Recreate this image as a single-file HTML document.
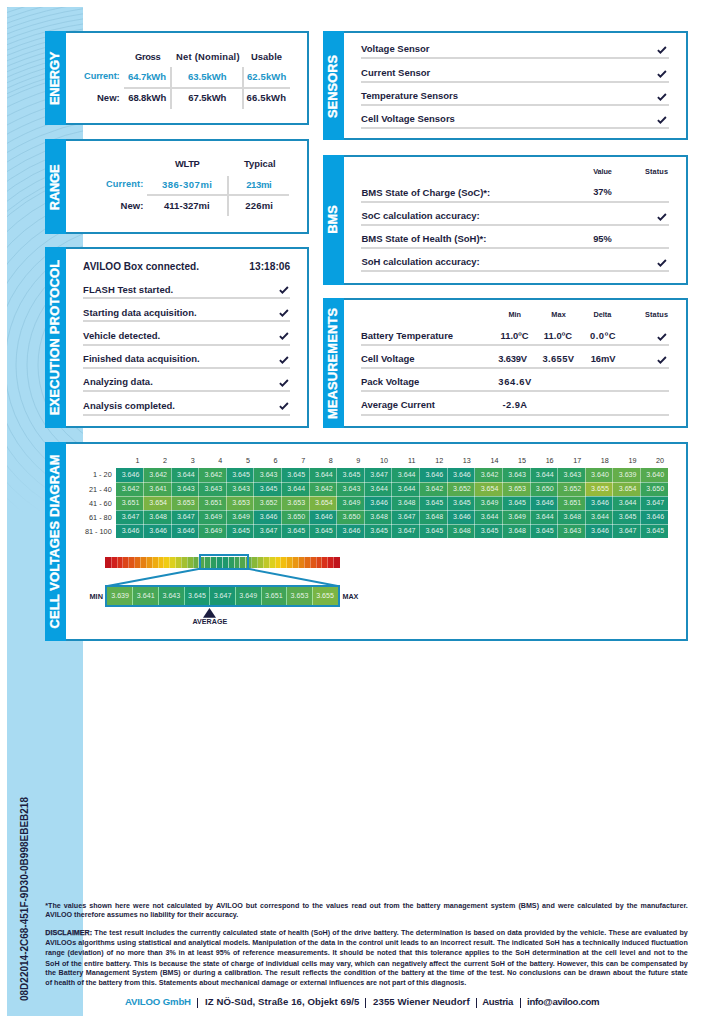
<!DOCTYPE html>
<html><head><meta charset="utf-8"><style>
html,body{margin:0;padding:0;background:#fff;}
body{width:725px;height:1024px;position:relative;overflow:hidden;font-family:"Liberation Sans",sans-serif;}
.t{position:absolute;line-height:1;white-space:nowrap;}
.l,.c{position:absolute;}
.ck{position:absolute;overflow:visible;}
.box{position:absolute;box-sizing:border-box;border:2px solid #1b8bbd;background:#fff;}
.band{position:absolute;background:#079fe0;}
.lab{position:absolute;text-align:center;color:#fff;font-weight:bold;white-space:nowrap;transform:rotate(-90deg);}
</style></head><body>
<div style="position:absolute;left:7px;top:7px;width:76px;height:1009px;background:#a9dbf2"></div>
<svg class="ck" style="left:0;top:0" width="90" height="520"><defs><clipPath id="sc"><rect x="7" y="7" width="76" height="505"/></clipPath><linearGradient id="fd" x1="0" y1="0" x2="0" y2="1"><stop offset="0.85" stop-color="#fff"/><stop offset="1" stop-color="#000"/></linearGradient><mask id="mk"><rect x="0" y="0" width="90" height="512" fill="url(#fd)"/></mask></defs><g clip-path="url(#sc)" mask="url(#mk)" fill="none" stroke="#7fb6d2" stroke-opacity="0.45" stroke-width="0.9"><circle cx="135" cy="365" r="75"/><circle cx="135" cy="365" r="86"/><circle cx="135" cy="365" r="97"/><circle cx="135" cy="365" r="108"/><circle cx="135" cy="365" r="119"/><circle cx="135" cy="365" r="130"/><circle cx="135" cy="365" r="141"/><circle cx="135" cy="365" r="152"/><circle cx="135" cy="365" r="163"/><circle cx="135" cy="365" r="174"/><circle cx="135" cy="365" r="185"/><circle cx="135" cy="365" r="196"/><circle cx="135" cy="365" r="200"/><circle cx="135" cy="365" r="208"/><circle cx="135" cy="365" r="216"/><circle cx="135" cy="365" r="224"/><circle cx="135" cy="365" r="232"/><circle cx="135" cy="365" r="240"/><circle cx="135" cy="365" r="248"/><circle cx="135" cy="365" r="256"/><circle cx="135" cy="365" r="264"/><circle cx="135" cy="365" r="272"/><circle cx="135" cy="365" r="280"/><circle cx="135" cy="365" r="288"/><circle cx="135" cy="365" r="296"/><circle cx="135" cy="365" r="300"/><circle cx="135" cy="365" r="305"/><circle cx="135" cy="365" r="310"/><circle cx="135" cy="365" r="315"/><circle cx="135" cy="365" r="320"/><circle cx="135" cy="365" r="325"/><circle cx="135" cy="365" r="330"/><circle cx="135" cy="365" r="335"/><circle cx="135" cy="365" r="340"/><circle cx="135" cy="365" r="345"/><circle cx="135" cy="365" r="350"/><circle cx="135" cy="365" r="355"/><circle cx="135" cy="365" r="360"/><circle cx="135" cy="365" r="365"/><circle cx="135" cy="365" r="370"/><circle cx="135" cy="365" r="375"/><circle cx="135" cy="365" r="380"/><circle cx="135" cy="365" r="385"/><circle cx="135" cy="365" r="390"/><circle cx="135" cy="365" r="395"/><circle cx="135" cy="365" r="400"/><circle cx="135" cy="365" r="405"/><circle cx="135" cy="365" r="410"/><circle cx="135" cy="365" r="415"/><circle cx="135" cy="365" r="420"/><circle cx="135" cy="365" r="425"/><circle cx="135" cy="365" r="430"/><circle cx="135" cy="365" r="435"/></g></svg>
<div class="box" style="left:45px;top:30.5px;width:264px;height:94.0px"></div>
<div class="band" style="left:45px;top:30.5px;width:21px;height:94.0px"></div>
<div class="lab" style="left:-95.50px;top:71.94px;width:300px;height:12.9px;line-height:12.9px;font-size:12.9px;letter-spacing:-0.215px;-webkit-text-stroke:0.35px #fff">ENERGY</div>
<div class="t" style="left:135.10px;top:51.54px;font-size:9.4px;font-weight:bold;color:#1c1d40;letter-spacing:-0.392px;">Gross</div>
<div class="t" style="left:176.10px;top:51.54px;font-size:9.4px;font-weight:bold;color:#1c1d40;letter-spacing:0.208px;">Net (Nominal)</div>
<div class="t" style="left:251.00px;top:51.54px;font-size:9.4px;font-weight:bold;color:#1c1d40;letter-spacing:0.055px;">Usable</div>
<div class="t" style="left:84.10px;top:71.91px;font-size:9.2px;font-weight:bold;color:#2196c8;letter-spacing:-0.098px;">Current:</div>
<div class="t" style="left:128.00px;top:71.66px;font-size:9.5px;font-weight:bold;color:#2196c8;letter-spacing:-0.090px;">64.7kWh</div>
<div class="t" style="left:187.90px;top:71.66px;font-size:9.5px;font-weight:bold;color:#2196c8;letter-spacing:0.026px;">63.5kWh</div>
<div class="t" style="left:246.90px;top:71.66px;font-size:9.5px;font-weight:bold;color:#2196c8;letter-spacing:0.126px;">62.5kWh</div>
<div class="t" style="left:-280.30px;width:400px;text-align:right;top:93.26px;font-size:9.5px;font-weight:bold;color:#1c1d40;">New:</div>
<div class="t" style="left:128.20px;top:93.26px;font-size:9.5px;font-weight:bold;color:#1c1d40;letter-spacing:-0.090px;">68.8kWh</div>
<div class="t" style="left:188.30px;top:93.26px;font-size:9.5px;font-weight:bold;color:#1c1d40;letter-spacing:-0.074px;">67.5kWh</div>
<div class="t" style="left:246.50px;top:93.26px;font-size:9.5px;font-weight:bold;color:#1c1d40;letter-spacing:0.160px;">66.5kWh</div>
<div class="l" style="left:123.80px;top:87px;width:166.60px;height:2px;background:#d7d7d7"></div>
<div class="l" style="left:170px;top:67.30px;width:2px;height:41.40px;background:#d6d6d6"></div>
<div class="l" style="left:242px;top:67.30px;width:2px;height:41.40px;background:#d6d6d6"></div>
<div class="box" style="left:45px;top:139px;width:264px;height:94.5px"></div>
<div class="band" style="left:45px;top:139px;width:21px;height:94.5px"></div>
<div class="lab" style="left:-95.50px;top:180.59px;width:300px;height:12.9px;line-height:12.9px;font-size:12.9px;letter-spacing:-0.220px;-webkit-text-stroke:0.35px #fff">RANGE</div>
<div class="t" style="left:175.00px;top:159.14px;font-size:9.4px;font-weight:bold;color:#1c1d40;letter-spacing:-0.375px;">WLTP</div>
<div class="t" style="left:244.00px;top:159.14px;font-size:9.4px;font-weight:bold;color:#1c1d40;letter-spacing:0.001px;">Typical</div>
<div class="t" style="left:106.00px;top:180.01px;font-size:9.2px;font-weight:bold;color:#2196c8;letter-spacing:0.145px;">Current:</div>
<div class="t" style="left:162.00px;top:179.76px;font-size:9.5px;font-weight:bold;color:#2196c8;letter-spacing:0.506px;">386-307mi</div>
<div class="t" style="left:246.20px;top:179.76px;font-size:9.5px;font-weight:bold;color:#2196c8;letter-spacing:-0.383px;">213mi</div>
<div class="t" style="left:-256.70px;width:400px;text-align:right;top:201.26px;font-size:9.5px;font-weight:bold;color:#1c1d40;">New:</div>
<div class="t" style="left:164.00px;top:201.26px;font-size:9.5px;font-weight:bold;color:#1c1d40;letter-spacing:0.034px;">411-327mi</div>
<div class="t" style="left:245.30px;top:201.26px;font-size:9.5px;font-weight:bold;color:#1c1d40;letter-spacing:0.167px;">226mi</div>
<div class="l" style="left:147.40px;top:194px;width:142.10px;height:2px;background:#d7d7d7"></div>
<div class="l" style="left:227px;top:176.20px;width:2px;height:40.00px;background:#d6d6d6"></div>
<div class="box" style="left:45px;top:247px;width:264px;height:180.5px"></div>
<div class="band" style="left:45px;top:247px;width:21px;height:180.5px"></div>
<div class="lab" style="left:-95.50px;top:330.86px;width:300px;height:12.9px;line-height:12.9px;font-size:12.9px;letter-spacing:0.229px;-webkit-text-stroke:0.35px #fff">EXECUTION PROTOCOL</div>
<div class="t" style="left:83.10px;top:261.79px;font-size:10.05px;font-weight:bold;color:#1c1d40;letter-spacing:0.025px;">AVILOO Box connected.</div>
<div class="t" style="left:249.30px;top:261.67px;font-size:10.2px;font-weight:bold;color:#1c1d40;letter-spacing:0.010px;">13:18:06</div>
<div class="t" style="left:83.10px;top:284.86px;font-size:9.5px;font-weight:bold;color:#1c1d40;">FLASH Test started.</div>
<div class="l" style="left:82.60px;top:297px;width:207.60px;height:2px;background:#d7d7d7"></div>
<svg class="ck" style="left:278.60px;top:286.30px" width="10" height="8" viewBox="0 0 10 8"><path d="M0.9 4.1 L3.4 6.6 L8.9 1.0" fill="none" stroke="#1c1d40" stroke-width="1.9"/></svg>
<div class="t" style="left:83.10px;top:307.56px;font-size:9.5px;font-weight:bold;color:#1c1d40;">Starting data acquisition.</div>
<div class="l" style="left:82.60px;top:320px;width:207.60px;height:2px;background:#d7d7d7"></div>
<svg class="ck" style="left:278.60px;top:309.00px" width="10" height="8" viewBox="0 0 10 8"><path d="M0.9 4.1 L3.4 6.6 L8.9 1.0" fill="none" stroke="#1c1d40" stroke-width="1.9"/></svg>
<div class="t" style="left:83.10px;top:330.56px;font-size:9.5px;font-weight:bold;color:#1c1d40;">Vehicle detected.</div>
<div class="l" style="left:82.60px;top:344px;width:207.60px;height:2px;background:#d7d7d7"></div>
<svg class="ck" style="left:278.60px;top:332.00px" width="10" height="8" viewBox="0 0 10 8"><path d="M0.9 4.1 L3.4 6.6 L8.9 1.0" fill="none" stroke="#1c1d40" stroke-width="1.9"/></svg>
<div class="t" style="left:83.10px;top:354.06px;font-size:9.5px;font-weight:bold;color:#1c1d40;">Finished data acquisition.</div>
<div class="l" style="left:82.60px;top:367px;width:207.60px;height:2px;background:#d7d7d7"></div>
<svg class="ck" style="left:278.60px;top:355.50px" width="10" height="8" viewBox="0 0 10 8"><path d="M0.9 4.1 L3.4 6.6 L8.9 1.0" fill="none" stroke="#1c1d40" stroke-width="1.9"/></svg>
<div class="t" style="left:83.10px;top:377.36px;font-size:9.5px;font-weight:bold;color:#1c1d40;">Analyzing data.</div>
<div class="l" style="left:82.60px;top:390px;width:207.60px;height:2px;background:#d7d7d7"></div>
<svg class="ck" style="left:278.60px;top:378.80px" width="10" height="8" viewBox="0 0 10 8"><path d="M0.9 4.1 L3.4 6.6 L8.9 1.0" fill="none" stroke="#1c1d40" stroke-width="1.9"/></svg>
<div class="t" style="left:83.10px;top:400.66px;font-size:9.5px;font-weight:bold;color:#1c1d40;">Analysis completed.</div>
<div class="l" style="left:82.60px;top:414px;width:207.60px;height:2px;background:#d7d7d7"></div>
<svg class="ck" style="left:278.60px;top:402.10px" width="10" height="8" viewBox="0 0 10 8"><path d="M0.9 4.1 L3.4 6.6 L8.9 1.0" fill="none" stroke="#1c1d40" stroke-width="1.9"/></svg>
<div class="box" style="left:322.5px;top:30.5px;width:365.0px;height:109.80000000000001px"></div>
<div class="band" style="left:322.5px;top:30.5px;width:21px;height:109.80000000000001px"></div>
<div class="lab" style="left:183.00px;top:79.52px;width:300px;height:12.9px;line-height:12.9px;font-size:12.9px;letter-spacing:0.037px;-webkit-text-stroke:0.35px #fff">SENSORS</div>
<div class="t" style="left:361.10px;top:44.36px;font-size:9.5px;font-weight:bold;color:#1c1d40;">Voltage Sensor</div>
<div class="l" style="left:360.80px;top:57px;width:307.80px;height:2px;background:#d7d7d7"></div>
<svg class="ck" style="left:657.40px;top:46.20px" width="10" height="8" viewBox="0 0 10 8"><path d="M0.9 4.1 L3.4 6.6 L8.9 1.0" fill="none" stroke="#1c1d40" stroke-width="1.9"/></svg>
<div class="t" style="left:361.10px;top:67.86px;font-size:9.5px;font-weight:bold;color:#1c1d40;">Current Sensor</div>
<div class="l" style="left:360.80px;top:81px;width:307.80px;height:2px;background:#d7d7d7"></div>
<svg class="ck" style="left:657.40px;top:69.70px" width="10" height="8" viewBox="0 0 10 8"><path d="M0.9 4.1 L3.4 6.6 L8.9 1.0" fill="none" stroke="#1c1d40" stroke-width="1.9"/></svg>
<div class="t" style="left:361.10px;top:91.16px;font-size:9.5px;font-weight:bold;color:#1c1d40;">Temperature Sensors</div>
<div class="l" style="left:360.80px;top:104px;width:307.80px;height:2px;background:#d7d7d7"></div>
<svg class="ck" style="left:657.40px;top:93.00px" width="10" height="8" viewBox="0 0 10 8"><path d="M0.9 4.1 L3.4 6.6 L8.9 1.0" fill="none" stroke="#1c1d40" stroke-width="1.9"/></svg>
<div class="t" style="left:361.10px;top:114.16px;font-size:9.5px;font-weight:bold;color:#1c1d40;">Cell Voltage Sensors</div>
<div class="l" style="left:360.80px;top:127px;width:307.80px;height:2px;background:#d7d7d7"></div>
<svg class="ck" style="left:657.40px;top:116.00px" width="10" height="8" viewBox="0 0 10 8"><path d="M0.9 4.1 L3.4 6.6 L8.9 1.0" fill="none" stroke="#1c1d40" stroke-width="1.9"/></svg>
<div class="box" style="left:322.5px;top:155px;width:365.0px;height:129.60000000000002px"></div>
<div class="band" style="left:322.5px;top:155px;width:21px;height:129.60000000000002px"></div>
<div class="lab" style="left:183.00px;top:213.31px;width:300px;height:12.9px;line-height:12.9px;font-size:12.9px;letter-spacing:0.018px;-webkit-text-stroke:0.35px #fff">BMS</div>
<div class="t" style="left:593.20px;top:167.92px;font-size:7.3px;font-weight:bold;color:#1c1d40;letter-spacing:-0.094px;">Value</div>
<div class="t" style="left:645.00px;top:167.92px;font-size:7.3px;font-weight:bold;color:#1c1d40;letter-spacing:0.138px;">Status</div>
<div class="t" style="left:361.40px;top:188.16px;font-size:9.5px;font-weight:bold;color:#1c1d40;">BMS State of Charge (SoC)*:</div>
<div class="l" style="left:360.80px;top:201px;width:308.00px;height:2px;background:#d7d7d7"></div>
<div class="t" style="left:593.20px;top:188.33px;font-size:9.3px;font-weight:bold;color:#1c1d40;letter-spacing:-0.055px;">37%</div>
<div class="t" style="left:361.40px;top:211.06px;font-size:9.5px;font-weight:bold;color:#1c1d40;">SoC calculation accuracy:</div>
<div class="l" style="left:360.80px;top:224px;width:308.00px;height:2px;background:#d7d7d7"></div>
<svg class="ck" style="left:657.40px;top:212.80px" width="10" height="8" viewBox="0 0 10 8"><path d="M0.9 4.1 L3.4 6.6 L8.9 1.0" fill="none" stroke="#1c1d40" stroke-width="1.9"/></svg>
<div class="t" style="left:361.40px;top:234.36px;font-size:9.5px;font-weight:bold;color:#1c1d40;">BMS State of Health (SoH)*:</div>
<div class="l" style="left:360.80px;top:247px;width:308.00px;height:2px;background:#d7d7d7"></div>
<div class="t" style="left:593.20px;top:234.53px;font-size:9.3px;font-weight:bold;color:#1c1d40;letter-spacing:-0.055px;">95%</div>
<div class="t" style="left:361.40px;top:257.46px;font-size:9.5px;font-weight:bold;color:#1c1d40;">SoH calculation accuracy:</div>
<div class="l" style="left:360.80px;top:270px;width:308.00px;height:2px;background:#d7d7d7"></div>
<svg class="ck" style="left:657.40px;top:259.20px" width="10" height="8" viewBox="0 0 10 8"><path d="M0.9 4.1 L3.4 6.6 L8.9 1.0" fill="none" stroke="#1c1d40" stroke-width="1.9"/></svg>
<div class="box" style="left:322.5px;top:298px;width:365.0px;height:129.5px"></div>
<div class="band" style="left:322.5px;top:298px;width:21px;height:129.5px"></div>
<div class="lab" style="left:183.00px;top:357.07px;width:300px;height:12.9px;line-height:12.9px;font-size:12.9px;letter-spacing:0.131px;-webkit-text-stroke:0.35px #fff">MEASUREMENTS</div>
<div class="t" style="left:508.50px;top:310.92px;font-size:7.3px;font-weight:bold;color:#1c1d40;letter-spacing:-0.085px;">Min</div>
<div class="t" style="left:551.20px;top:310.92px;font-size:7.3px;font-weight:bold;color:#1c1d40;letter-spacing:0.251px;">Max</div>
<div class="t" style="left:593.40px;top:310.92px;font-size:7.3px;font-weight:bold;color:#1c1d40;letter-spacing:0.025px;">Delta</div>
<div class="t" style="left:645.00px;top:310.92px;font-size:7.3px;font-weight:bold;color:#1c1d40;letter-spacing:0.138px;">Status</div>
<div class="t" style="left:360.90px;top:330.96px;font-size:9.5px;font-weight:bold;color:#1c1d40;">Battery Temperature</div>
<div class="l" style="left:360.80px;top:344px;width:308.00px;height:2px;background:#d7d7d7"></div>
<div class="t" style="left:500.50px;top:331.04px;font-size:9.4px;font-weight:bold;color:#1c1d40;letter-spacing:0.019px;">11.0ºC</div>
<div class="t" style="left:543.80px;top:331.04px;font-size:9.4px;font-weight:bold;color:#1c1d40;letter-spacing:0.079px;">11.0ºC</div>
<div class="t" style="left:589.90px;top:331.04px;font-size:9.4px;font-weight:bold;color:#1c1d40;letter-spacing:0.577px;">0.0ºC</div>
<svg class="ck" style="left:657.40px;top:332.50px" width="10" height="8" viewBox="0 0 10 8"><path d="M0.9 4.1 L3.4 6.6 L8.9 1.0" fill="none" stroke="#1c1d40" stroke-width="1.9"/></svg>
<div class="t" style="left:360.90px;top:353.96px;font-size:9.5px;font-weight:bold;color:#1c1d40;">Cell Voltage</div>
<div class="l" style="left:360.80px;top:367px;width:308.00px;height:2px;background:#d7d7d7"></div>
<div class="t" style="left:498.30px;top:354.04px;font-size:9.4px;font-weight:bold;color:#1c1d40;letter-spacing:-0.178px;">3.639V</div>
<div class="t" style="left:542.40px;top:354.04px;font-size:9.4px;font-weight:bold;color:#1c1d40;letter-spacing:0.382px;">3.655V</div>
<div class="t" style="left:590.70px;top:354.04px;font-size:9.4px;font-weight:bold;color:#1c1d40;letter-spacing:-0.093px;">16mV</div>
<svg class="ck" style="left:657.40px;top:355.50px" width="10" height="8" viewBox="0 0 10 8"><path d="M0.9 4.1 L3.4 6.6 L8.9 1.0" fill="none" stroke="#1c1d40" stroke-width="1.9"/></svg>
<div class="t" style="left:360.90px;top:377.16px;font-size:9.5px;font-weight:bold;color:#1c1d40;">Pack Voltage</div>
<div class="l" style="left:360.80px;top:390px;width:308.00px;height:2px;background:#d7d7d7"></div>
<div class="t" style="left:498.30px;top:377.24px;font-size:9.4px;font-weight:bold;color:#1c1d40;letter-spacing:0.662px;">364.6V</div>
<div class="t" style="left:360.90px;top:400.16px;font-size:9.5px;font-weight:bold;color:#1c1d40;">Average Current</div>
<div class="l" style="left:360.80px;top:414px;width:308.00px;height:2px;background:#d7d7d7"></div>
<div class="t" style="left:502.40px;top:400.24px;font-size:9.4px;font-weight:bold;color:#1c1d40;letter-spacing:0.454px;">-2.9A</div>
<div class="box" style="left:45px;top:441.5px;width:642.5px;height:199.20000000000005px"></div>
<div class="band" style="left:45px;top:441.5px;width:21px;height:199.20000000000005px"></div>
<div class="lab" style="left:-95.50px;top:535.17px;width:300px;height:12.9px;line-height:12.9px;font-size:12.9px;letter-spacing:0.131px;-webkit-text-stroke:0.35px #fff">CELL VOLTAGES DIAGRAM</div>
<div class="t" style="left:-260.59px;width:400px;text-align:right;top:457.21px;font-size:7.2px;font-weight:normal;color:#333;">1</div>
<div class="t" style="left:-232.97px;width:400px;text-align:right;top:457.21px;font-size:7.2px;font-weight:normal;color:#333;">2</div>
<div class="t" style="left:-205.36px;width:400px;text-align:right;top:457.21px;font-size:7.2px;font-weight:normal;color:#333;">3</div>
<div class="t" style="left:-177.74px;width:400px;text-align:right;top:457.21px;font-size:7.2px;font-weight:normal;color:#333;">4</div>
<div class="t" style="left:-150.12px;width:400px;text-align:right;top:457.21px;font-size:7.2px;font-weight:normal;color:#333;">5</div>
<div class="t" style="left:-122.51px;width:400px;text-align:right;top:457.21px;font-size:7.2px;font-weight:normal;color:#333;">6</div>
<div class="t" style="left:-94.89px;width:400px;text-align:right;top:457.21px;font-size:7.2px;font-weight:normal;color:#333;">7</div>
<div class="t" style="left:-67.28px;width:400px;text-align:right;top:457.21px;font-size:7.2px;font-weight:normal;color:#333;">8</div>
<div class="t" style="left:-39.66px;width:400px;text-align:right;top:457.21px;font-size:7.2px;font-weight:normal;color:#333;">9</div>
<div class="t" style="left:-12.05px;width:400px;text-align:right;top:457.21px;font-size:7.2px;font-weight:normal;color:#333;">10</div>
<div class="t" style="left:15.57px;width:400px;text-align:right;top:457.21px;font-size:7.2px;font-weight:normal;color:#333;">11</div>
<div class="t" style="left:43.18px;width:400px;text-align:right;top:457.21px;font-size:7.2px;font-weight:normal;color:#333;">12</div>
<div class="t" style="left:70.80px;width:400px;text-align:right;top:457.21px;font-size:7.2px;font-weight:normal;color:#333;">13</div>
<div class="t" style="left:98.41px;width:400px;text-align:right;top:457.21px;font-size:7.2px;font-weight:normal;color:#333;">14</div>
<div class="t" style="left:126.02px;width:400px;text-align:right;top:457.21px;font-size:7.2px;font-weight:normal;color:#333;">15</div>
<div class="t" style="left:153.64px;width:400px;text-align:right;top:457.21px;font-size:7.2px;font-weight:normal;color:#333;">16</div>
<div class="t" style="left:181.25px;width:400px;text-align:right;top:457.21px;font-size:7.2px;font-weight:normal;color:#333;">17</div>
<div class="t" style="left:208.87px;width:400px;text-align:right;top:457.21px;font-size:7.2px;font-weight:normal;color:#333;">18</div>
<div class="t" style="left:236.49px;width:400px;text-align:right;top:457.21px;font-size:7.2px;font-weight:normal;color:#333;">19</div>
<div class="t" style="left:264.10px;width:400px;text-align:right;top:457.21px;font-size:7.2px;font-weight:normal;color:#333;">20</div>
<div class="t" style="left:-288.30px;width:400px;text-align:right;top:471.47px;font-size:7.3px;font-weight:normal;color:#333;">1 - 20</div>
<div class="c" style="left:115.80px;top:468.00px;width:27.62px;height:14.10px;background:#17957a"></div>
<div class="c" style="left:143.41px;top:468.00px;width:27.62px;height:14.10px;background:#39a35b"></div>
<div class="c" style="left:171.03px;top:468.00px;width:27.62px;height:14.10px;background:#229b6a"></div>
<div class="c" style="left:198.64px;top:468.00px;width:27.62px;height:14.10px;background:#39a35b"></div>
<div class="c" style="left:226.26px;top:468.00px;width:27.62px;height:14.10px;background:#1b9873"></div>
<div class="c" style="left:253.88px;top:468.00px;width:27.62px;height:14.10px;background:#2d9f62"></div>
<div class="c" style="left:281.49px;top:468.00px;width:27.62px;height:14.10px;background:#1b9873"></div>
<div class="c" style="left:309.11px;top:468.00px;width:27.62px;height:14.10px;background:#229b6a"></div>
<div class="c" style="left:336.72px;top:468.00px;width:27.62px;height:14.10px;background:#1b9873"></div>
<div class="c" style="left:364.34px;top:468.00px;width:27.62px;height:14.10px;background:#1b9873"></div>
<div class="c" style="left:391.95px;top:468.00px;width:27.62px;height:14.10px;background:#229b6a"></div>
<div class="c" style="left:419.57px;top:468.00px;width:27.62px;height:14.10px;background:#17957a"></div>
<div class="c" style="left:447.18px;top:468.00px;width:27.62px;height:14.10px;background:#17957a"></div>
<div class="c" style="left:474.80px;top:468.00px;width:27.62px;height:14.10px;background:#39a35b"></div>
<div class="c" style="left:502.41px;top:468.00px;width:27.62px;height:14.10px;background:#2d9f62"></div>
<div class="c" style="left:530.02px;top:468.00px;width:27.62px;height:14.10px;background:#229b6a"></div>
<div class="c" style="left:557.64px;top:468.00px;width:27.62px;height:14.10px;background:#2d9f62"></div>
<div class="c" style="left:585.25px;top:468.00px;width:27.62px;height:14.10px;background:#56aa4f"></div>
<div class="c" style="left:612.87px;top:468.00px;width:27.62px;height:14.10px;background:#65ae4a"></div>
<div class="c" style="left:640.49px;top:468.00px;width:27.62px;height:14.10px;background:#56aa4f"></div>
<div class="t" style="left:-288.30px;width:400px;text-align:right;top:485.57px;font-size:7.3px;font-weight:normal;color:#333;">21 - 40</div>
<div class="c" style="left:115.80px;top:482.10px;width:27.62px;height:14.10px;background:#39a35b"></div>
<div class="c" style="left:143.41px;top:482.10px;width:27.62px;height:14.10px;background:#46a654"></div>
<div class="c" style="left:171.03px;top:482.10px;width:27.62px;height:14.10px;background:#2d9f62"></div>
<div class="c" style="left:198.64px;top:482.10px;width:27.62px;height:14.10px;background:#2d9f62"></div>
<div class="c" style="left:226.26px;top:482.10px;width:27.62px;height:14.10px;background:#2d9f62"></div>
<div class="c" style="left:253.88px;top:482.10px;width:27.62px;height:14.10px;background:#1b9873"></div>
<div class="c" style="left:281.49px;top:482.10px;width:27.62px;height:14.10px;background:#229b6a"></div>
<div class="c" style="left:309.11px;top:482.10px;width:27.62px;height:14.10px;background:#39a35b"></div>
<div class="c" style="left:336.72px;top:482.10px;width:27.62px;height:14.10px;background:#2d9f62"></div>
<div class="c" style="left:364.34px;top:482.10px;width:27.62px;height:14.10px;background:#229b6a"></div>
<div class="c" style="left:391.95px;top:482.10px;width:27.62px;height:14.10px;background:#229b6a"></div>
<div class="c" style="left:419.57px;top:482.10px;width:27.62px;height:14.10px;background:#39a35b"></div>
<div class="c" style="left:447.18px;top:482.10px;width:27.62px;height:14.10px;background:#56aa4f"></div>
<div class="c" style="left:474.80px;top:482.10px;width:27.62px;height:14.10px;background:#7cb343"></div>
<div class="c" style="left:502.41px;top:482.10px;width:27.62px;height:14.10px;background:#65ae4a"></div>
<div class="c" style="left:530.02px;top:482.10px;width:27.62px;height:14.10px;background:#39a35b"></div>
<div class="c" style="left:557.64px;top:482.10px;width:27.62px;height:14.10px;background:#56aa4f"></div>
<div class="c" style="left:585.25px;top:482.10px;width:27.62px;height:14.10px;background:#96b93c"></div>
<div class="c" style="left:612.87px;top:482.10px;width:27.62px;height:14.10px;background:#7cb343"></div>
<div class="c" style="left:640.49px;top:482.10px;width:27.62px;height:14.10px;background:#39a35b"></div>
<div class="t" style="left:-288.30px;width:400px;text-align:right;top:499.67px;font-size:7.3px;font-weight:normal;color:#333;">41 - 60</div>
<div class="c" style="left:115.80px;top:496.20px;width:27.62px;height:14.10px;background:#46a654"></div>
<div class="c" style="left:143.41px;top:496.20px;width:27.62px;height:14.10px;background:#7cb343"></div>
<div class="c" style="left:171.03px;top:496.20px;width:27.62px;height:14.10px;background:#65ae4a"></div>
<div class="c" style="left:198.64px;top:496.20px;width:27.62px;height:14.10px;background:#46a654"></div>
<div class="c" style="left:226.26px;top:496.20px;width:27.62px;height:14.10px;background:#65ae4a"></div>
<div class="c" style="left:253.88px;top:496.20px;width:27.62px;height:14.10px;background:#56aa4f"></div>
<div class="c" style="left:281.49px;top:496.20px;width:27.62px;height:14.10px;background:#65ae4a"></div>
<div class="c" style="left:309.11px;top:496.20px;width:27.62px;height:14.10px;background:#7cb343"></div>
<div class="c" style="left:336.72px;top:496.20px;width:27.62px;height:14.10px;background:#2d9f62"></div>
<div class="c" style="left:364.34px;top:496.20px;width:27.62px;height:14.10px;background:#17957a"></div>
<div class="c" style="left:391.95px;top:496.20px;width:27.62px;height:14.10px;background:#229b6a"></div>
<div class="c" style="left:419.57px;top:496.20px;width:27.62px;height:14.10px;background:#1b9873"></div>
<div class="c" style="left:447.18px;top:496.20px;width:27.62px;height:14.10px;background:#1b9873"></div>
<div class="c" style="left:474.80px;top:496.20px;width:27.62px;height:14.10px;background:#2d9f62"></div>
<div class="c" style="left:502.41px;top:496.20px;width:27.62px;height:14.10px;background:#1b9873"></div>
<div class="c" style="left:530.02px;top:496.20px;width:27.62px;height:14.10px;background:#17957a"></div>
<div class="c" style="left:557.64px;top:496.20px;width:27.62px;height:14.10px;background:#46a654"></div>
<div class="c" style="left:585.25px;top:496.20px;width:27.62px;height:14.10px;background:#17957a"></div>
<div class="c" style="left:612.87px;top:496.20px;width:27.62px;height:14.10px;background:#229b6a"></div>
<div class="c" style="left:640.49px;top:496.20px;width:27.62px;height:14.10px;background:#1b9873"></div>
<div class="t" style="left:-288.30px;width:400px;text-align:right;top:513.77px;font-size:7.3px;font-weight:normal;color:#333;">61 - 80</div>
<div class="c" style="left:115.80px;top:510.30px;width:27.62px;height:14.10px;background:#1b9873"></div>
<div class="c" style="left:143.41px;top:510.30px;width:27.62px;height:14.10px;background:#229b6a"></div>
<div class="c" style="left:171.03px;top:510.30px;width:27.62px;height:14.10px;background:#1b9873"></div>
<div class="c" style="left:198.64px;top:510.30px;width:27.62px;height:14.10px;background:#2d9f62"></div>
<div class="c" style="left:226.26px;top:510.30px;width:27.62px;height:14.10px;background:#2d9f62"></div>
<div class="c" style="left:253.88px;top:510.30px;width:27.62px;height:14.10px;background:#17957a"></div>
<div class="c" style="left:281.49px;top:510.30px;width:27.62px;height:14.10px;background:#39a35b"></div>
<div class="c" style="left:309.11px;top:510.30px;width:27.62px;height:14.10px;background:#17957a"></div>
<div class="c" style="left:336.72px;top:510.30px;width:27.62px;height:14.10px;background:#39a35b"></div>
<div class="c" style="left:364.34px;top:510.30px;width:27.62px;height:14.10px;background:#229b6a"></div>
<div class="c" style="left:391.95px;top:510.30px;width:27.62px;height:14.10px;background:#1b9873"></div>
<div class="c" style="left:419.57px;top:510.30px;width:27.62px;height:14.10px;background:#229b6a"></div>
<div class="c" style="left:447.18px;top:510.30px;width:27.62px;height:14.10px;background:#17957a"></div>
<div class="c" style="left:474.80px;top:510.30px;width:27.62px;height:14.10px;background:#229b6a"></div>
<div class="c" style="left:502.41px;top:510.30px;width:27.62px;height:14.10px;background:#2d9f62"></div>
<div class="c" style="left:530.02px;top:510.30px;width:27.62px;height:14.10px;background:#229b6a"></div>
<div class="c" style="left:557.64px;top:510.30px;width:27.62px;height:14.10px;background:#229b6a"></div>
<div class="c" style="left:585.25px;top:510.30px;width:27.62px;height:14.10px;background:#229b6a"></div>
<div class="c" style="left:612.87px;top:510.30px;width:27.62px;height:14.10px;background:#1b9873"></div>
<div class="c" style="left:640.49px;top:510.30px;width:27.62px;height:14.10px;background:#17957a"></div>
<div class="t" style="left:-288.30px;width:400px;text-align:right;top:527.87px;font-size:7.3px;font-weight:normal;color:#333;">81 - 100</div>
<div class="c" style="left:115.80px;top:524.40px;width:27.62px;height:14.10px;background:#17957a"></div>
<div class="c" style="left:143.41px;top:524.40px;width:27.62px;height:14.10px;background:#17957a"></div>
<div class="c" style="left:171.03px;top:524.40px;width:27.62px;height:14.10px;background:#17957a"></div>
<div class="c" style="left:198.64px;top:524.40px;width:27.62px;height:14.10px;background:#2d9f62"></div>
<div class="c" style="left:226.26px;top:524.40px;width:27.62px;height:14.10px;background:#1b9873"></div>
<div class="c" style="left:253.88px;top:524.40px;width:27.62px;height:14.10px;background:#1b9873"></div>
<div class="c" style="left:281.49px;top:524.40px;width:27.62px;height:14.10px;background:#1b9873"></div>
<div class="c" style="left:309.11px;top:524.40px;width:27.62px;height:14.10px;background:#1b9873"></div>
<div class="c" style="left:336.72px;top:524.40px;width:27.62px;height:14.10px;background:#17957a"></div>
<div class="c" style="left:364.34px;top:524.40px;width:27.62px;height:14.10px;background:#1b9873"></div>
<div class="c" style="left:391.95px;top:524.40px;width:27.62px;height:14.10px;background:#1b9873"></div>
<div class="c" style="left:419.57px;top:524.40px;width:27.62px;height:14.10px;background:#1b9873"></div>
<div class="c" style="left:447.18px;top:524.40px;width:27.62px;height:14.10px;background:#229b6a"></div>
<div class="c" style="left:474.80px;top:524.40px;width:27.62px;height:14.10px;background:#1b9873"></div>
<div class="c" style="left:502.41px;top:524.40px;width:27.62px;height:14.10px;background:#229b6a"></div>
<div class="c" style="left:530.02px;top:524.40px;width:27.62px;height:14.10px;background:#1b9873"></div>
<div class="c" style="left:557.64px;top:524.40px;width:27.62px;height:14.10px;background:#2d9f62"></div>
<div class="c" style="left:585.25px;top:524.40px;width:27.62px;height:14.10px;background:#17957a"></div>
<div class="c" style="left:612.87px;top:524.40px;width:27.62px;height:14.10px;background:#1b9873"></div>
<div class="c" style="left:640.49px;top:524.40px;width:27.62px;height:14.10px;background:#1b9873"></div>
<div class="t" style="left:-260.59px;width:400px;text-align:right;top:471.64px;font-size:7.1px;font-weight:normal;color:rgba(255,255,255,0.88);">3.646</div>
<div class="t" style="left:-232.97px;width:400px;text-align:right;top:471.64px;font-size:7.1px;font-weight:normal;color:rgba(255,255,255,0.88);">3.642</div>
<div class="t" style="left:-205.35px;width:400px;text-align:right;top:471.64px;font-size:7.1px;font-weight:normal;color:rgba(255,255,255,0.88);">3.644</div>
<div class="t" style="left:-177.74px;width:400px;text-align:right;top:471.64px;font-size:7.1px;font-weight:normal;color:rgba(255,255,255,0.88);">3.642</div>
<div class="t" style="left:-150.12px;width:400px;text-align:right;top:471.64px;font-size:7.1px;font-weight:normal;color:rgba(255,255,255,0.88);">3.645</div>
<div class="t" style="left:-122.51px;width:400px;text-align:right;top:471.64px;font-size:7.1px;font-weight:normal;color:rgba(255,255,255,0.88);">3.643</div>
<div class="t" style="left:-94.89px;width:400px;text-align:right;top:471.64px;font-size:7.1px;font-weight:normal;color:rgba(255,255,255,0.88);">3.645</div>
<div class="t" style="left:-67.28px;width:400px;text-align:right;top:471.64px;font-size:7.1px;font-weight:normal;color:rgba(255,255,255,0.88);">3.644</div>
<div class="t" style="left:-39.66px;width:400px;text-align:right;top:471.64px;font-size:7.1px;font-weight:normal;color:rgba(255,255,255,0.88);">3.645</div>
<div class="t" style="left:-12.05px;width:400px;text-align:right;top:471.64px;font-size:7.1px;font-weight:normal;color:rgba(255,255,255,0.88);">3.647</div>
<div class="t" style="left:15.57px;width:400px;text-align:right;top:471.64px;font-size:7.1px;font-weight:normal;color:rgba(255,255,255,0.88);">3.644</div>
<div class="t" style="left:43.18px;width:400px;text-align:right;top:471.64px;font-size:7.1px;font-weight:normal;color:rgba(255,255,255,0.88);">3.646</div>
<div class="t" style="left:70.80px;width:400px;text-align:right;top:471.64px;font-size:7.1px;font-weight:normal;color:rgba(255,255,255,0.88);">3.646</div>
<div class="t" style="left:98.41px;width:400px;text-align:right;top:471.64px;font-size:7.1px;font-weight:normal;color:rgba(255,255,255,0.88);">3.642</div>
<div class="t" style="left:126.02px;width:400px;text-align:right;top:471.64px;font-size:7.1px;font-weight:normal;color:rgba(255,255,255,0.88);">3.643</div>
<div class="t" style="left:153.64px;width:400px;text-align:right;top:471.64px;font-size:7.1px;font-weight:normal;color:rgba(255,255,255,0.88);">3.644</div>
<div class="t" style="left:181.25px;width:400px;text-align:right;top:471.64px;font-size:7.1px;font-weight:normal;color:rgba(255,255,255,0.88);">3.643</div>
<div class="t" style="left:208.87px;width:400px;text-align:right;top:471.64px;font-size:7.1px;font-weight:normal;color:rgba(255,255,255,0.88);">3.640</div>
<div class="t" style="left:236.49px;width:400px;text-align:right;top:471.64px;font-size:7.1px;font-weight:normal;color:rgba(255,255,255,0.88);">3.639</div>
<div class="t" style="left:264.10px;width:400px;text-align:right;top:471.64px;font-size:7.1px;font-weight:normal;color:rgba(255,255,255,0.88);">3.640</div>
<div class="t" style="left:-260.59px;width:400px;text-align:right;top:485.74px;font-size:7.1px;font-weight:normal;color:rgba(255,255,255,0.88);">3.642</div>
<div class="t" style="left:-232.97px;width:400px;text-align:right;top:485.74px;font-size:7.1px;font-weight:normal;color:rgba(255,255,255,0.88);">3.641</div>
<div class="t" style="left:-205.35px;width:400px;text-align:right;top:485.74px;font-size:7.1px;font-weight:normal;color:rgba(255,255,255,0.88);">3.643</div>
<div class="t" style="left:-177.74px;width:400px;text-align:right;top:485.74px;font-size:7.1px;font-weight:normal;color:rgba(255,255,255,0.88);">3.643</div>
<div class="t" style="left:-150.12px;width:400px;text-align:right;top:485.74px;font-size:7.1px;font-weight:normal;color:rgba(255,255,255,0.88);">3.643</div>
<div class="t" style="left:-122.51px;width:400px;text-align:right;top:485.74px;font-size:7.1px;font-weight:normal;color:rgba(255,255,255,0.88);">3.645</div>
<div class="t" style="left:-94.89px;width:400px;text-align:right;top:485.74px;font-size:7.1px;font-weight:normal;color:rgba(255,255,255,0.88);">3.644</div>
<div class="t" style="left:-67.28px;width:400px;text-align:right;top:485.74px;font-size:7.1px;font-weight:normal;color:rgba(255,255,255,0.88);">3.642</div>
<div class="t" style="left:-39.66px;width:400px;text-align:right;top:485.74px;font-size:7.1px;font-weight:normal;color:rgba(255,255,255,0.88);">3.643</div>
<div class="t" style="left:-12.05px;width:400px;text-align:right;top:485.74px;font-size:7.1px;font-weight:normal;color:rgba(255,255,255,0.88);">3.644</div>
<div class="t" style="left:15.57px;width:400px;text-align:right;top:485.74px;font-size:7.1px;font-weight:normal;color:rgba(255,255,255,0.88);">3.644</div>
<div class="t" style="left:43.18px;width:400px;text-align:right;top:485.74px;font-size:7.1px;font-weight:normal;color:rgba(255,255,255,0.88);">3.642</div>
<div class="t" style="left:70.80px;width:400px;text-align:right;top:485.74px;font-size:7.1px;font-weight:normal;color:rgba(255,255,255,0.88);">3.652</div>
<div class="t" style="left:98.41px;width:400px;text-align:right;top:485.74px;font-size:7.1px;font-weight:normal;color:rgba(255,255,255,0.88);">3.654</div>
<div class="t" style="left:126.02px;width:400px;text-align:right;top:485.74px;font-size:7.1px;font-weight:normal;color:rgba(255,255,255,0.88);">3.653</div>
<div class="t" style="left:153.64px;width:400px;text-align:right;top:485.74px;font-size:7.1px;font-weight:normal;color:rgba(255,255,255,0.88);">3.650</div>
<div class="t" style="left:181.25px;width:400px;text-align:right;top:485.74px;font-size:7.1px;font-weight:normal;color:rgba(255,255,255,0.88);">3.652</div>
<div class="t" style="left:208.87px;width:400px;text-align:right;top:485.74px;font-size:7.1px;font-weight:normal;color:rgba(255,255,255,0.88);">3.655</div>
<div class="t" style="left:236.49px;width:400px;text-align:right;top:485.74px;font-size:7.1px;font-weight:normal;color:rgba(255,255,255,0.88);">3.654</div>
<div class="t" style="left:264.10px;width:400px;text-align:right;top:485.74px;font-size:7.1px;font-weight:normal;color:rgba(255,255,255,0.88);">3.650</div>
<div class="t" style="left:-260.59px;width:400px;text-align:right;top:499.84px;font-size:7.1px;font-weight:normal;color:rgba(255,255,255,0.88);">3.651</div>
<div class="t" style="left:-232.97px;width:400px;text-align:right;top:499.84px;font-size:7.1px;font-weight:normal;color:rgba(255,255,255,0.88);">3.654</div>
<div class="t" style="left:-205.35px;width:400px;text-align:right;top:499.84px;font-size:7.1px;font-weight:normal;color:rgba(255,255,255,0.88);">3.653</div>
<div class="t" style="left:-177.74px;width:400px;text-align:right;top:499.84px;font-size:7.1px;font-weight:normal;color:rgba(255,255,255,0.88);">3.651</div>
<div class="t" style="left:-150.12px;width:400px;text-align:right;top:499.84px;font-size:7.1px;font-weight:normal;color:rgba(255,255,255,0.88);">3.653</div>
<div class="t" style="left:-122.51px;width:400px;text-align:right;top:499.84px;font-size:7.1px;font-weight:normal;color:rgba(255,255,255,0.88);">3.652</div>
<div class="t" style="left:-94.89px;width:400px;text-align:right;top:499.84px;font-size:7.1px;font-weight:normal;color:rgba(255,255,255,0.88);">3.653</div>
<div class="t" style="left:-67.28px;width:400px;text-align:right;top:499.84px;font-size:7.1px;font-weight:normal;color:rgba(255,255,255,0.88);">3.654</div>
<div class="t" style="left:-39.66px;width:400px;text-align:right;top:499.84px;font-size:7.1px;font-weight:normal;color:rgba(255,255,255,0.88);">3.649</div>
<div class="t" style="left:-12.05px;width:400px;text-align:right;top:499.84px;font-size:7.1px;font-weight:normal;color:rgba(255,255,255,0.88);">3.646</div>
<div class="t" style="left:15.57px;width:400px;text-align:right;top:499.84px;font-size:7.1px;font-weight:normal;color:rgba(255,255,255,0.88);">3.648</div>
<div class="t" style="left:43.18px;width:400px;text-align:right;top:499.84px;font-size:7.1px;font-weight:normal;color:rgba(255,255,255,0.88);">3.645</div>
<div class="t" style="left:70.80px;width:400px;text-align:right;top:499.84px;font-size:7.1px;font-weight:normal;color:rgba(255,255,255,0.88);">3.645</div>
<div class="t" style="left:98.41px;width:400px;text-align:right;top:499.84px;font-size:7.1px;font-weight:normal;color:rgba(255,255,255,0.88);">3.649</div>
<div class="t" style="left:126.02px;width:400px;text-align:right;top:499.84px;font-size:7.1px;font-weight:normal;color:rgba(255,255,255,0.88);">3.645</div>
<div class="t" style="left:153.64px;width:400px;text-align:right;top:499.84px;font-size:7.1px;font-weight:normal;color:rgba(255,255,255,0.88);">3.646</div>
<div class="t" style="left:181.25px;width:400px;text-align:right;top:499.84px;font-size:7.1px;font-weight:normal;color:rgba(255,255,255,0.88);">3.651</div>
<div class="t" style="left:208.87px;width:400px;text-align:right;top:499.84px;font-size:7.1px;font-weight:normal;color:rgba(255,255,255,0.88);">3.646</div>
<div class="t" style="left:236.49px;width:400px;text-align:right;top:499.84px;font-size:7.1px;font-weight:normal;color:rgba(255,255,255,0.88);">3.644</div>
<div class="t" style="left:264.10px;width:400px;text-align:right;top:499.84px;font-size:7.1px;font-weight:normal;color:rgba(255,255,255,0.88);">3.647</div>
<div class="t" style="left:-260.59px;width:400px;text-align:right;top:513.94px;font-size:7.1px;font-weight:normal;color:rgba(255,255,255,0.88);">3.647</div>
<div class="t" style="left:-232.97px;width:400px;text-align:right;top:513.94px;font-size:7.1px;font-weight:normal;color:rgba(255,255,255,0.88);">3.648</div>
<div class="t" style="left:-205.35px;width:400px;text-align:right;top:513.94px;font-size:7.1px;font-weight:normal;color:rgba(255,255,255,0.88);">3.647</div>
<div class="t" style="left:-177.74px;width:400px;text-align:right;top:513.94px;font-size:7.1px;font-weight:normal;color:rgba(255,255,255,0.88);">3.649</div>
<div class="t" style="left:-150.12px;width:400px;text-align:right;top:513.94px;font-size:7.1px;font-weight:normal;color:rgba(255,255,255,0.88);">3.649</div>
<div class="t" style="left:-122.51px;width:400px;text-align:right;top:513.94px;font-size:7.1px;font-weight:normal;color:rgba(255,255,255,0.88);">3.646</div>
<div class="t" style="left:-94.89px;width:400px;text-align:right;top:513.94px;font-size:7.1px;font-weight:normal;color:rgba(255,255,255,0.88);">3.650</div>
<div class="t" style="left:-67.28px;width:400px;text-align:right;top:513.94px;font-size:7.1px;font-weight:normal;color:rgba(255,255,255,0.88);">3.646</div>
<div class="t" style="left:-39.66px;width:400px;text-align:right;top:513.94px;font-size:7.1px;font-weight:normal;color:rgba(255,255,255,0.88);">3.650</div>
<div class="t" style="left:-12.05px;width:400px;text-align:right;top:513.94px;font-size:7.1px;font-weight:normal;color:rgba(255,255,255,0.88);">3.648</div>
<div class="t" style="left:15.57px;width:400px;text-align:right;top:513.94px;font-size:7.1px;font-weight:normal;color:rgba(255,255,255,0.88);">3.647</div>
<div class="t" style="left:43.18px;width:400px;text-align:right;top:513.94px;font-size:7.1px;font-weight:normal;color:rgba(255,255,255,0.88);">3.648</div>
<div class="t" style="left:70.80px;width:400px;text-align:right;top:513.94px;font-size:7.1px;font-weight:normal;color:rgba(255,255,255,0.88);">3.646</div>
<div class="t" style="left:98.41px;width:400px;text-align:right;top:513.94px;font-size:7.1px;font-weight:normal;color:rgba(255,255,255,0.88);">3.644</div>
<div class="t" style="left:126.02px;width:400px;text-align:right;top:513.94px;font-size:7.1px;font-weight:normal;color:rgba(255,255,255,0.88);">3.649</div>
<div class="t" style="left:153.64px;width:400px;text-align:right;top:513.94px;font-size:7.1px;font-weight:normal;color:rgba(255,255,255,0.88);">3.644</div>
<div class="t" style="left:181.25px;width:400px;text-align:right;top:513.94px;font-size:7.1px;font-weight:normal;color:rgba(255,255,255,0.88);">3.648</div>
<div class="t" style="left:208.87px;width:400px;text-align:right;top:513.94px;font-size:7.1px;font-weight:normal;color:rgba(255,255,255,0.88);">3.644</div>
<div class="t" style="left:236.49px;width:400px;text-align:right;top:513.94px;font-size:7.1px;font-weight:normal;color:rgba(255,255,255,0.88);">3.645</div>
<div class="t" style="left:264.10px;width:400px;text-align:right;top:513.94px;font-size:7.1px;font-weight:normal;color:rgba(255,255,255,0.88);">3.646</div>
<div class="t" style="left:-260.59px;width:400px;text-align:right;top:528.04px;font-size:7.1px;font-weight:normal;color:rgba(255,255,255,0.88);">3.646</div>
<div class="t" style="left:-232.97px;width:400px;text-align:right;top:528.04px;font-size:7.1px;font-weight:normal;color:rgba(255,255,255,0.88);">3.646</div>
<div class="t" style="left:-205.35px;width:400px;text-align:right;top:528.04px;font-size:7.1px;font-weight:normal;color:rgba(255,255,255,0.88);">3.646</div>
<div class="t" style="left:-177.74px;width:400px;text-align:right;top:528.04px;font-size:7.1px;font-weight:normal;color:rgba(255,255,255,0.88);">3.649</div>
<div class="t" style="left:-150.12px;width:400px;text-align:right;top:528.04px;font-size:7.1px;font-weight:normal;color:rgba(255,255,255,0.88);">3.645</div>
<div class="t" style="left:-122.51px;width:400px;text-align:right;top:528.04px;font-size:7.1px;font-weight:normal;color:rgba(255,255,255,0.88);">3.647</div>
<div class="t" style="left:-94.89px;width:400px;text-align:right;top:528.04px;font-size:7.1px;font-weight:normal;color:rgba(255,255,255,0.88);">3.645</div>
<div class="t" style="left:-67.28px;width:400px;text-align:right;top:528.04px;font-size:7.1px;font-weight:normal;color:rgba(255,255,255,0.88);">3.645</div>
<div class="t" style="left:-39.66px;width:400px;text-align:right;top:528.04px;font-size:7.1px;font-weight:normal;color:rgba(255,255,255,0.88);">3.646</div>
<div class="t" style="left:-12.05px;width:400px;text-align:right;top:528.04px;font-size:7.1px;font-weight:normal;color:rgba(255,255,255,0.88);">3.645</div>
<div class="t" style="left:15.57px;width:400px;text-align:right;top:528.04px;font-size:7.1px;font-weight:normal;color:rgba(255,255,255,0.88);">3.647</div>
<div class="t" style="left:43.18px;width:400px;text-align:right;top:528.04px;font-size:7.1px;font-weight:normal;color:rgba(255,255,255,0.88);">3.645</div>
<div class="t" style="left:70.80px;width:400px;text-align:right;top:528.04px;font-size:7.1px;font-weight:normal;color:rgba(255,255,255,0.88);">3.648</div>
<div class="t" style="left:98.41px;width:400px;text-align:right;top:528.04px;font-size:7.1px;font-weight:normal;color:rgba(255,255,255,0.88);">3.645</div>
<div class="t" style="left:126.02px;width:400px;text-align:right;top:528.04px;font-size:7.1px;font-weight:normal;color:rgba(255,255,255,0.88);">3.648</div>
<div class="t" style="left:153.64px;width:400px;text-align:right;top:528.04px;font-size:7.1px;font-weight:normal;color:rgba(255,255,255,0.88);">3.645</div>
<div class="t" style="left:181.25px;width:400px;text-align:right;top:528.04px;font-size:7.1px;font-weight:normal;color:rgba(255,255,255,0.88);">3.643</div>
<div class="t" style="left:208.87px;width:400px;text-align:right;top:528.04px;font-size:7.1px;font-weight:normal;color:rgba(255,255,255,0.88);">3.646</div>
<div class="t" style="left:236.49px;width:400px;text-align:right;top:528.04px;font-size:7.1px;font-weight:normal;color:rgba(255,255,255,0.88);">3.647</div>
<div class="t" style="left:264.10px;width:400px;text-align:right;top:528.04px;font-size:7.1px;font-weight:normal;color:rgba(255,255,255,0.88);">3.645</div>
<div class="l" style="left:142.91px;top:468.00px;width:1px;height:70.50px;background:rgba(255,255,255,0.45)"></div>
<div class="l" style="left:170.53px;top:468.00px;width:1px;height:70.50px;background:rgba(255,255,255,0.45)"></div>
<div class="l" style="left:198.14px;top:468.00px;width:1px;height:70.50px;background:rgba(255,255,255,0.45)"></div>
<div class="l" style="left:225.76px;top:468.00px;width:1px;height:70.50px;background:rgba(255,255,255,0.45)"></div>
<div class="l" style="left:253.38px;top:468.00px;width:1px;height:70.50px;background:rgba(255,255,255,0.45)"></div>
<div class="l" style="left:280.99px;top:468.00px;width:1px;height:70.50px;background:rgba(255,255,255,0.45)"></div>
<div class="l" style="left:308.61px;top:468.00px;width:1px;height:70.50px;background:rgba(255,255,255,0.45)"></div>
<div class="l" style="left:336.22px;top:468.00px;width:1px;height:70.50px;background:rgba(255,255,255,0.45)"></div>
<div class="l" style="left:363.84px;top:468.00px;width:1px;height:70.50px;background:rgba(255,255,255,0.45)"></div>
<div class="l" style="left:391.45px;top:468.00px;width:1px;height:70.50px;background:rgba(255,255,255,0.45)"></div>
<div class="l" style="left:419.07px;top:468.00px;width:1px;height:70.50px;background:rgba(255,255,255,0.45)"></div>
<div class="l" style="left:446.68px;top:468.00px;width:1px;height:70.50px;background:rgba(255,255,255,0.45)"></div>
<div class="l" style="left:474.30px;top:468.00px;width:1px;height:70.50px;background:rgba(255,255,255,0.45)"></div>
<div class="l" style="left:501.91px;top:468.00px;width:1px;height:70.50px;background:rgba(255,255,255,0.45)"></div>
<div class="l" style="left:529.52px;top:468.00px;width:1px;height:70.50px;background:rgba(255,255,255,0.45)"></div>
<div class="l" style="left:557.14px;top:468.00px;width:1px;height:70.50px;background:rgba(255,255,255,0.45)"></div>
<div class="l" style="left:584.75px;top:468.00px;width:1px;height:70.50px;background:rgba(255,255,255,0.45)"></div>
<div class="l" style="left:612.37px;top:468.00px;width:1px;height:70.50px;background:rgba(255,255,255,0.45)"></div>
<div class="l" style="left:639.99px;top:468.00px;width:1px;height:70.50px;background:rgba(255,255,255,0.45)"></div>
<div class="l" style="left:115.80px;top:481.60px;width:552.30px;height:1px;background:rgba(255,255,255,0.45)"></div>
<div class="l" style="left:115.80px;top:495.70px;width:552.30px;height:1px;background:rgba(255,255,255,0.45)"></div>
<div class="l" style="left:115.80px;top:509.80px;width:552.30px;height:1px;background:rgba(255,255,255,0.45)"></div>
<div class="l" style="left:115.80px;top:523.90px;width:552.30px;height:1px;background:rgba(255,255,255,0.45)"></div>
<div class="c" style="left:105.30px;top:557.2px;width:5.90px;height:10.70px;background:#c0141c"></div>
<div class="c" style="left:111.16px;top:557.2px;width:5.90px;height:10.70px;background:#d01f1c"></div>
<div class="c" style="left:117.01px;top:557.2px;width:5.90px;height:10.70px;background:#d8301a"></div>
<div class="c" style="left:122.86px;top:557.2px;width:5.90px;height:10.70px;background:#dc4418"></div>
<div class="c" style="left:128.72px;top:557.2px;width:5.90px;height:10.70px;background:#e05616"></div>
<div class="c" style="left:134.57px;top:557.2px;width:5.90px;height:10.70px;background:#e26a14"></div>
<div class="c" style="left:140.43px;top:557.2px;width:5.90px;height:10.70px;background:#e68012"></div>
<div class="c" style="left:146.28px;top:557.2px;width:5.90px;height:10.70px;background:#ea9612"></div>
<div class="c" style="left:152.14px;top:557.2px;width:5.90px;height:10.70px;background:#eeab10"></div>
<div class="c" style="left:158.00px;top:557.2px;width:5.90px;height:10.70px;background:#f2be10"></div>
<div class="c" style="left:163.85px;top:557.2px;width:5.90px;height:10.70px;background:#f0cc14"></div>
<div class="c" style="left:169.70px;top:557.2px;width:5.90px;height:10.70px;background:#dcd01e"></div>
<div class="c" style="left:175.56px;top:557.2px;width:5.90px;height:10.70px;background:#c0c828"></div>
<div class="c" style="left:181.41px;top:557.2px;width:5.90px;height:10.70px;background:#a4c030"></div>
<div class="c" style="left:187.27px;top:557.2px;width:5.90px;height:10.70px;background:#88b838"></div>
<div class="c" style="left:193.12px;top:557.2px;width:5.90px;height:10.70px;background:#6cae42"></div>
<div class="c" style="left:198.98px;top:557.2px;width:5.90px;height:10.70px;background:#52a64c"></div>
<div class="c" style="left:204.83px;top:557.2px;width:5.90px;height:10.70px;background:#40a255"></div>
<div class="c" style="left:210.69px;top:557.2px;width:5.90px;height:10.70px;background:#2c9d60"></div>
<div class="c" style="left:216.54px;top:557.2px;width:5.90px;height:10.70px;background:#1e986c"></div>
<div class="c" style="left:222.40px;top:557.2px;width:5.90px;height:10.70px;background:#1e986c"></div>
<div class="c" style="left:228.25px;top:557.2px;width:5.90px;height:10.70px;background:#2c9d60"></div>
<div class="c" style="left:234.11px;top:557.2px;width:5.90px;height:10.70px;background:#40a255"></div>
<div class="c" style="left:239.96px;top:557.2px;width:5.90px;height:10.70px;background:#52a64c"></div>
<div class="c" style="left:245.82px;top:557.2px;width:5.90px;height:10.70px;background:#6cae42"></div>
<div class="c" style="left:251.68px;top:557.2px;width:5.90px;height:10.70px;background:#88b838"></div>
<div class="c" style="left:257.53px;top:557.2px;width:5.90px;height:10.70px;background:#a4c030"></div>
<div class="c" style="left:263.38px;top:557.2px;width:5.90px;height:10.70px;background:#c0c828"></div>
<div class="c" style="left:269.24px;top:557.2px;width:5.90px;height:10.70px;background:#dcd01e"></div>
<div class="c" style="left:275.09px;top:557.2px;width:5.90px;height:10.70px;background:#f0cc14"></div>
<div class="c" style="left:280.95px;top:557.2px;width:5.90px;height:10.70px;background:#f2be10"></div>
<div class="c" style="left:286.81px;top:557.2px;width:5.90px;height:10.70px;background:#eeab10"></div>
<div class="c" style="left:292.66px;top:557.2px;width:5.90px;height:10.70px;background:#ea9612"></div>
<div class="c" style="left:298.51px;top:557.2px;width:5.90px;height:10.70px;background:#e68012"></div>
<div class="c" style="left:304.37px;top:557.2px;width:5.90px;height:10.70px;background:#e26a14"></div>
<div class="c" style="left:310.22px;top:557.2px;width:5.90px;height:10.70px;background:#e05616"></div>
<div class="c" style="left:316.08px;top:557.2px;width:5.90px;height:10.70px;background:#dc4418"></div>
<div class="c" style="left:321.94px;top:557.2px;width:5.90px;height:10.70px;background:#d8301a"></div>
<div class="c" style="left:327.79px;top:557.2px;width:5.90px;height:10.70px;background:#d01f1c"></div>
<div class="c" style="left:333.64px;top:557.2px;width:5.90px;height:10.70px;background:#c0141c"></div>
<div class="l" style="left:110.66px;top:557.2px;width:1px;height:10.70px;background:rgba(255,255,255,0.3)"></div>
<div class="l" style="left:116.51px;top:557.2px;width:1px;height:10.70px;background:rgba(255,255,255,0.3)"></div>
<div class="l" style="left:122.36px;top:557.2px;width:1px;height:10.70px;background:rgba(255,255,255,0.3)"></div>
<div class="l" style="left:128.22px;top:557.2px;width:1px;height:10.70px;background:rgba(255,255,255,0.3)"></div>
<div class="l" style="left:134.07px;top:557.2px;width:1px;height:10.70px;background:rgba(255,255,255,0.3)"></div>
<div class="l" style="left:139.93px;top:557.2px;width:1px;height:10.70px;background:rgba(255,255,255,0.3)"></div>
<div class="l" style="left:145.78px;top:557.2px;width:1px;height:10.70px;background:rgba(255,255,255,0.3)"></div>
<div class="l" style="left:151.64px;top:557.2px;width:1px;height:10.70px;background:rgba(255,255,255,0.3)"></div>
<div class="l" style="left:157.50px;top:557.2px;width:1px;height:10.70px;background:rgba(255,255,255,0.3)"></div>
<div class="l" style="left:163.35px;top:557.2px;width:1px;height:10.70px;background:rgba(255,255,255,0.3)"></div>
<div class="l" style="left:169.20px;top:557.2px;width:1px;height:10.70px;background:rgba(255,255,255,0.3)"></div>
<div class="l" style="left:175.06px;top:557.2px;width:1px;height:10.70px;background:rgba(255,255,255,0.3)"></div>
<div class="l" style="left:180.91px;top:557.2px;width:1px;height:10.70px;background:rgba(255,255,255,0.3)"></div>
<div class="l" style="left:186.77px;top:557.2px;width:1px;height:10.70px;background:rgba(255,255,255,0.3)"></div>
<div class="l" style="left:192.62px;top:557.2px;width:1px;height:10.70px;background:rgba(255,255,255,0.3)"></div>
<div class="l" style="left:198.48px;top:557.2px;width:1px;height:10.70px;background:rgba(255,255,255,0.55)"></div>
<div class="l" style="left:204.33px;top:557.2px;width:1px;height:10.70px;background:rgba(255,255,255,0.55)"></div>
<div class="l" style="left:210.19px;top:557.2px;width:1px;height:10.70px;background:rgba(255,255,255,0.55)"></div>
<div class="l" style="left:216.04px;top:557.2px;width:1px;height:10.70px;background:rgba(255,255,255,0.55)"></div>
<div class="l" style="left:221.90px;top:557.2px;width:1px;height:10.70px;background:rgba(255,255,255,0.55)"></div>
<div class="l" style="left:227.75px;top:557.2px;width:1px;height:10.70px;background:rgba(255,255,255,0.55)"></div>
<div class="l" style="left:233.61px;top:557.2px;width:1px;height:10.70px;background:rgba(255,255,255,0.55)"></div>
<div class="l" style="left:239.46px;top:557.2px;width:1px;height:10.70px;background:rgba(255,255,255,0.55)"></div>
<div class="l" style="left:245.32px;top:557.2px;width:1px;height:10.70px;background:rgba(255,255,255,0.55)"></div>
<div class="l" style="left:251.18px;top:557.2px;width:1px;height:10.70px;background:rgba(255,255,255,0.3)"></div>
<div class="l" style="left:257.03px;top:557.2px;width:1px;height:10.70px;background:rgba(255,255,255,0.3)"></div>
<div class="l" style="left:262.88px;top:557.2px;width:1px;height:10.70px;background:rgba(255,255,255,0.3)"></div>
<div class="l" style="left:268.74px;top:557.2px;width:1px;height:10.70px;background:rgba(255,255,255,0.3)"></div>
<div class="l" style="left:274.59px;top:557.2px;width:1px;height:10.70px;background:rgba(255,255,255,0.3)"></div>
<div class="l" style="left:280.45px;top:557.2px;width:1px;height:10.70px;background:rgba(255,255,255,0.3)"></div>
<div class="l" style="left:286.31px;top:557.2px;width:1px;height:10.70px;background:rgba(255,255,255,0.3)"></div>
<div class="l" style="left:292.16px;top:557.2px;width:1px;height:10.70px;background:rgba(255,255,255,0.3)"></div>
<div class="l" style="left:298.01px;top:557.2px;width:1px;height:10.70px;background:rgba(255,255,255,0.3)"></div>
<div class="l" style="left:303.87px;top:557.2px;width:1px;height:10.70px;background:rgba(255,255,255,0.3)"></div>
<div class="l" style="left:309.72px;top:557.2px;width:1px;height:10.70px;background:rgba(255,255,255,0.3)"></div>
<div class="l" style="left:315.58px;top:557.2px;width:1px;height:10.70px;background:rgba(255,255,255,0.3)"></div>
<div class="l" style="left:321.44px;top:557.2px;width:1px;height:10.70px;background:rgba(255,255,255,0.3)"></div>
<div class="l" style="left:327.29px;top:557.2px;width:1px;height:10.70px;background:rgba(255,255,255,0.3)"></div>
<div class="l" style="left:333.14px;top:557.2px;width:1px;height:10.70px;background:rgba(255,255,255,0.3)"></div>
<div class="l" style="left:198.7px;top:553.9px;width:50.6px;height:15.9px;border:2px solid #1b8bbd;box-sizing:border-box"></div>
<svg class="ck" style="left:0;top:0" width="725" height="1024"><path d="M199.8 568.8 L106.3 586.3 M248.2 568.8 L338.9 586.3" stroke="#1b8bbd" stroke-width="2" fill="none"/><path d="M209.5 607.9 L216.0 617.8 L203.0 617.8 Z" fill="#1c1d40"/></svg>
<div class="l" style="left:105.3px;top:585.3px;width:234.60px;height:22.20px;background:#1b8bbd"></div>
<div class="c" style="left:107.30px;top:587.3px;width:25.67px;height:18.20px;background:#5fae4f"></div>
<div class="c" style="left:132.92px;top:587.3px;width:25.67px;height:18.20px;background:#48a857"></div>
<div class="c" style="left:158.54px;top:587.3px;width:25.67px;height:18.20px;background:#2fa062"></div>
<div class="c" style="left:184.17px;top:587.3px;width:25.67px;height:18.20px;background:#1b9a70"></div>
<div class="c" style="left:209.79px;top:587.3px;width:25.67px;height:18.20px;background:#1a9772"></div>
<div class="c" style="left:235.41px;top:587.3px;width:25.67px;height:18.20px;background:#2a9d66"></div>
<div class="c" style="left:261.03px;top:587.3px;width:25.67px;height:18.20px;background:#40a458"></div>
<div class="c" style="left:286.66px;top:587.3px;width:25.67px;height:18.20px;background:#5aab4f"></div>
<div class="c" style="left:312.28px;top:587.3px;width:25.67px;height:18.20px;background:#7ab545"></div>
<div class="l" style="left:132.42px;top:587.3px;width:1px;height:18.20px;background:rgba(190,255,210,0.6)"></div>
<div class="l" style="left:158.04px;top:587.3px;width:1px;height:18.20px;background:rgba(190,255,210,0.6)"></div>
<div class="l" style="left:183.67px;top:587.3px;width:1px;height:18.20px;background:rgba(190,255,210,0.6)"></div>
<div class="l" style="left:209.29px;top:587.3px;width:1px;height:18.20px;background:rgba(190,255,210,0.6)"></div>
<div class="l" style="left:234.91px;top:587.3px;width:1px;height:18.20px;background:rgba(190,255,210,0.6)"></div>
<div class="l" style="left:260.53px;top:587.3px;width:1px;height:18.20px;background:rgba(190,255,210,0.6)"></div>
<div class="l" style="left:286.16px;top:587.3px;width:1px;height:18.20px;background:rgba(190,255,210,0.6)"></div>
<div class="l" style="left:311.78px;top:587.3px;width:1px;height:18.20px;background:rgba(190,255,210,0.6)"></div>
<div class="t" style="left:-79.89px;width:400px;text-align:center;top:593.49px;font-size:7.1px;font-weight:normal;color:rgba(255,255,255,0.88);">3.639</div>
<div class="t" style="left:-54.27px;width:400px;text-align:center;top:593.49px;font-size:7.1px;font-weight:normal;color:rgba(255,255,255,0.88);">3.641</div>
<div class="t" style="left:-28.64px;width:400px;text-align:center;top:593.49px;font-size:7.1px;font-weight:normal;color:rgba(255,255,255,0.88);">3.643</div>
<div class="t" style="left:-3.02px;width:400px;text-align:center;top:593.49px;font-size:7.1px;font-weight:normal;color:rgba(255,255,255,0.88);">3.645</div>
<div class="t" style="left:22.60px;width:400px;text-align:center;top:593.49px;font-size:7.1px;font-weight:normal;color:rgba(255,255,255,0.88);">3.647</div>
<div class="t" style="left:48.22px;width:400px;text-align:center;top:593.49px;font-size:7.1px;font-weight:normal;color:rgba(255,255,255,0.88);">3.649</div>
<div class="t" style="left:73.84px;width:400px;text-align:center;top:593.49px;font-size:7.1px;font-weight:normal;color:rgba(255,255,255,0.88);">3.651</div>
<div class="t" style="left:99.47px;width:400px;text-align:center;top:593.49px;font-size:7.1px;font-weight:normal;color:rgba(255,255,255,0.88);">3.653</div>
<div class="t" style="left:125.09px;width:400px;text-align:center;top:593.49px;font-size:7.1px;font-weight:normal;color:rgba(255,255,255,0.88);">3.655</div>
<div class="t" style="left:89.50px;top:593.32px;font-size:7.3px;font-weight:bold;color:#1c1d40;letter-spacing:0.010px;">MIN</div>
<div class="t" style="left:342.60px;top:593.41px;font-size:7.2px;font-weight:bold;color:#1c1d40;letter-spacing:-0.149px;">MAX</div>
<div class="t" style="left:192.40px;top:619.29px;font-size:7.1px;font-weight:bold;color:#1c1d40;letter-spacing:0.036px;">AVERAGE</div>
<div class="lab" style="left:-125.5px;top:893.5px;width:300px;height:10px;line-height:10px;font-size:10.0px;font-weight:bold;color:#1c1d40">08D22014-2C68-451F-9D30-0B998EBEB218</div>
<div class="t" style="left:45.3px;width:642.5px;top:902.55px;font-size:7.15px;font-weight:bold;color:#1c1d40;text-align:justify;text-align-last:justify">*The values shown here were not calculated by AVILOO but correspond to the values read out from the battery management system (BMS) and were calculated by the manufacturer.</div>
<div class="t" style="left:45.3px;width:642.5px;top:912.45px;font-size:7.15px;font-weight:bold;color:#1c1d40;text-align:left">AVILOO therefore assumes no liability for their accuracy.</div>
<div class="t" style="left:45.3px;width:642.5px;top:930.15px;font-size:7.15px;font-weight:bold;color:#1c1d40;text-align:justify;text-align-last:justify"><span style="-webkit-text-stroke:0.25px #1c1d40">DISCLAIMER:</span> The test result includes the currently calculated state of health (SoH) of the drive battery. The determination is based on data provided by the vehicle. These are evaluated by</div>
<div class="t" style="left:45.3px;width:642.5px;top:939.65px;font-size:7.15px;font-weight:bold;color:#1c1d40;text-align:justify;text-align-last:justify">AVILOOs algorithms using statistical and analytical models. Manipulation of the data in the control unit leads to an incorrect result. The indicated SoH has a technically induced fluctuation</div>
<div class="t" style="left:45.3px;width:642.5px;top:949.85px;font-size:7.15px;font-weight:bold;color:#1c1d40;text-align:justify;text-align-last:justify">range (deviation) of no more than 3% in at least 95% of reference measurements. It should be noted that this tolerance applies to the SoH determination at the cell level and not to the</div>
<div class="t" style="left:45.3px;width:642.5px;top:960.55px;font-size:7.15px;font-weight:bold;color:#1c1d40;text-align:justify;text-align-last:justify">SoH of the entire battery. This is because the state of charge of individual cells may vary, which can negatively affect the current SoH of the battery. However, this can be compensated by</div>
<div class="t" style="left:45.3px;width:642.5px;top:970.45px;font-size:7.15px;font-weight:bold;color:#1c1d40;text-align:justify;text-align-last:justify">the Battery Management System (BMS) or during a calibration. The result reflects the condition of the battery at the time of the test. No conclusions can be drawn about the future state</div>
<div class="t" style="left:45.3px;width:642.5px;top:980.45px;font-size:7.15px;font-weight:bold;color:#1c1d40;text-align:left">of health of the battery from this. Statements about mechanical damage or external influences are not part of this diagnosis.</div>
<div class="t" style="left:124.90px;top:997.37px;font-size:9.6px;font-weight:bold;color:#2196c8;letter-spacing:-0.136px;">AVILOO GmbH</div>
<div class="t" style="left:205.00px;top:997.37px;font-size:9.6px;font-weight:bold;color:#1c1d40;letter-spacing:0.077px;">IZ NÖ-Süd, Straße 16, Objekt 69/5</div>
<div class="t" style="left:373.10px;top:997.37px;font-size:9.6px;font-weight:bold;color:#1c1d40;letter-spacing:0.065px;">2355 Wiener Neudorf</div>
<div class="t" style="left:482.20px;top:997.37px;font-size:9.6px;font-weight:bold;color:#1c1d40;letter-spacing:-0.323px;">Austria</div>
<div class="t" style="left:527.10px;top:997.37px;font-size:9.6px;font-weight:bold;color:#1c1d40;letter-spacing:-0.328px;">info@aviloo.com</div>
<div class="l" style="left:196.60px;top:997.5px;width:1.2px;height:10px;background:#1c1d40"></div>
<div class="l" style="left:365.20px;top:997.5px;width:1.2px;height:10px;background:#1c1d40"></div>
<div class="l" style="left:475.50px;top:997.5px;width:1.2px;height:10px;background:#1c1d40"></div>
<div class="l" style="left:520.00px;top:997.5px;width:1.2px;height:10px;background:#1c1d40"></div>
</body></html>
